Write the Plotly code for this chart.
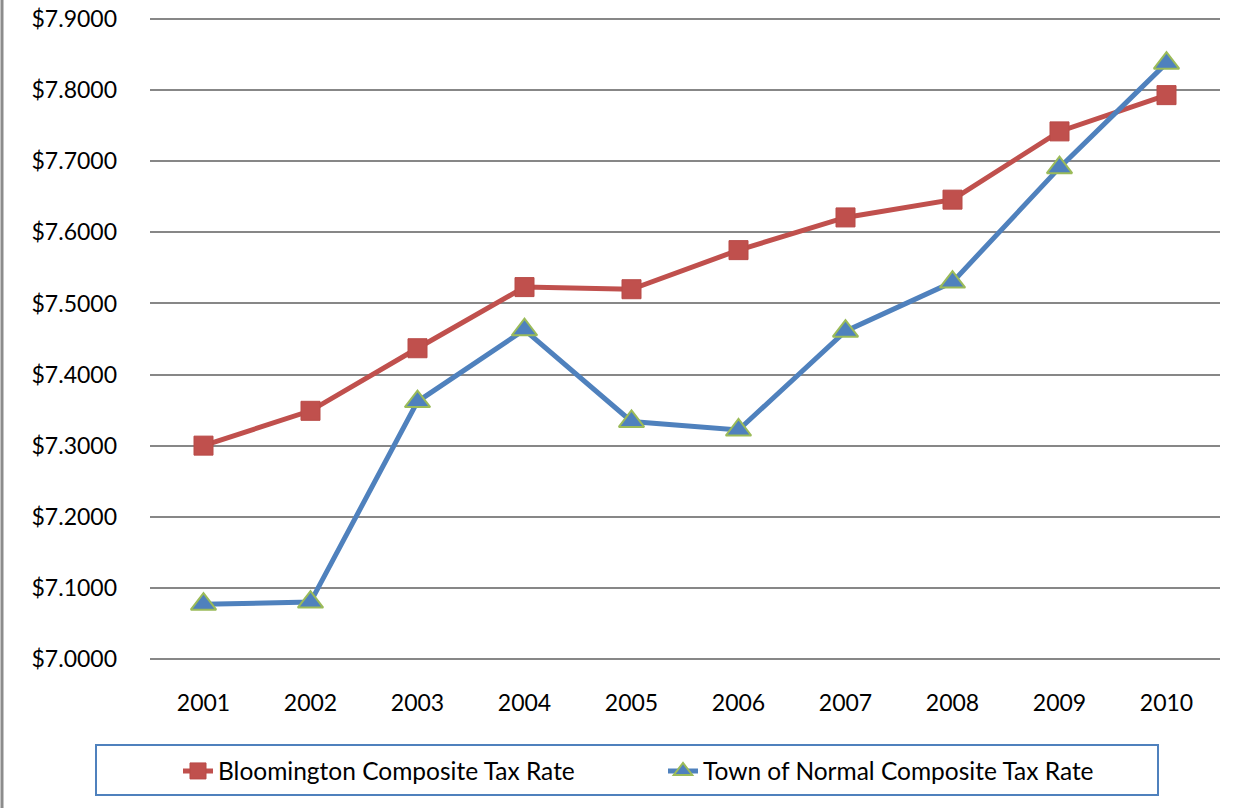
import plotly.graph_objects as go

years = ["2001", "2002", "2003", "2004", "2005", "2006", "2007", "2008", "2009", "2010"]
bloomington = [7.300, 7.349, 7.437, 7.523, 7.520, 7.575, 7.621, 7.646, 7.742, 7.793]
normal = [7.077, 7.080, 7.362, 7.463, 7.334, 7.322, 7.461, 7.530, 7.691, 7.838]
yticks = [7.0, 7.1, 7.2, 7.3, 7.4, 7.5, 7.6, 7.7, 7.8, 7.9]

FONT = "Lato"
W, H = 1236, 808
L, R, T, B = 150, 16, 18, 148
pw, ph = W - L - R, H - T - B

def px_x(x):
    return (x - L) / pw

def px_y(y):
    return (H - B - y) / ph

fig = go.Figure()
fig.add_trace(go.Scatter(
    x=years, y=bloomington, mode="lines+markers",
    name="Bloomington Composite Tax Rate",
    line=dict(color="#C0504D", width=5),
    marker=dict(symbol="square", size=19, color="#C0504D", line=dict(color="#B84A47", width=1)),
))
fig.add_trace(go.Scatter(
    x=years, y=normal, mode="lines+markers",
    name="Town of Normal Composite Tax Rate",
    line=dict(color="#4F81BD", width=5),
    marker=dict(symbol="triangle-up", size=22, color="#4F81BD", line=dict(color="#9BBB59", width=2)),
))

fig.update_layout(
    width=W, height=H,
    margin=dict(l=L, r=R, t=T, b=B, autoexpand=False),
    paper_bgcolor="white", plot_bgcolor="white",
    font=dict(family=FONT, size=23, color="#000000"),
    showlegend=True,
    legend=dict(
        orientation="h", x=px_x(178), y=px_y(771), xanchor="left", yanchor="middle",
        font=dict(family=FONT, size=24.5, color="#000000"),
        bgcolor="rgba(0,0,0,0)", borderwidth=0,
        entrywidth=440, entrywidthmode="pixels",
    ),
    xaxis=dict(
        type="category", range=[-0.5, 9.5], showgrid=False, showline=False,
        ticks="", tickfont=dict(family=FONT, size=23), ticklabelstandoff=27,
        automargin=False,
    ),
    yaxis=dict(
        range=[6.9985, 7.9015], tickvals=yticks,
        ticktext=["$%.4f" % v for v in yticks],
        showgrid=True, gridcolor="#878787", gridwidth=2, zeroline=False,
        showline=False, ticks="", ticklabelstandoff=32,
        tickfont=dict(family=FONT, size=23), automargin=False,
    ),
    shapes=[
        dict(type="rect", xref="paper", yref="paper",
             x0=px_x(96), x1=px_x(1158), y0=px_y(795), y1=px_y(745),
             line=dict(color="#4F81BD", width=2), fillcolor="rgba(0,0,0,0)", layer="below"),
        dict(type="line", xref="paper", yref="paper",
             x0=px_x(2), x1=px_x(2), y0=px_y(808), y1=px_y(0),
             line=dict(color="#8C8C8C", width=3)),
    ],
)

fig.write_html("out.html", config={"displayModeBar": False},
               post_script="document.body.style.margin='0';document.body.style.padding='0';")
